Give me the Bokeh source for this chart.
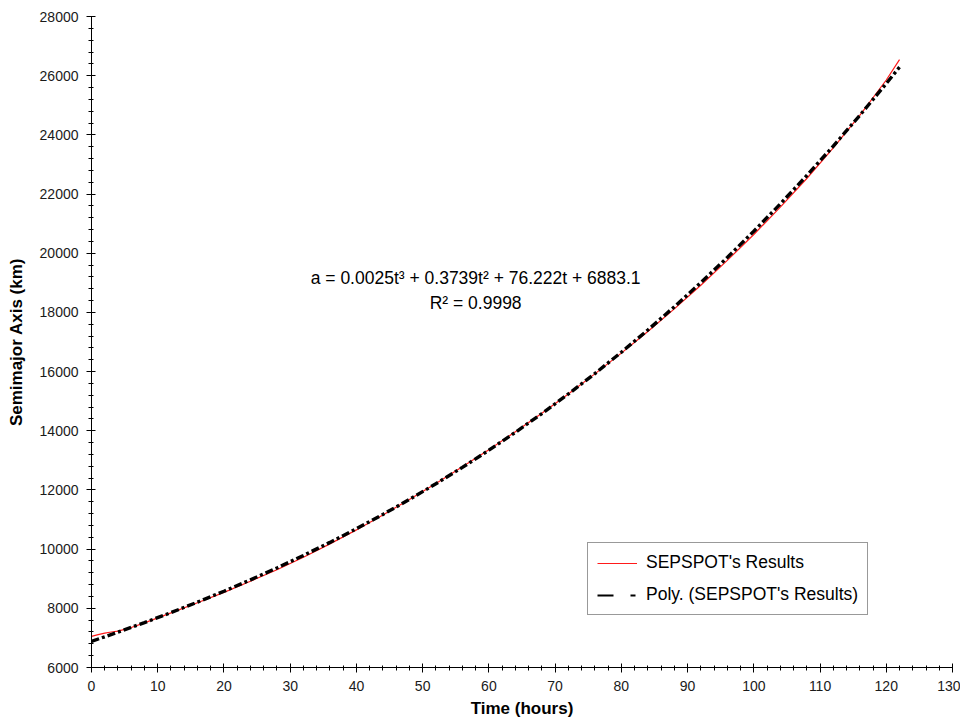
from bokeh.plotting import figure
from bokeh.models import (Range1d, SingleIntervalTicker, BasicTickFormatter, Label,
                          Legend, LegendItem)
from bokeh.embed import file_html
from bokeh.resources import INLINE

# ---- data ----
t_results = [0, 1, 2, 3, 4, 6, 8, 12, 16, 20, 24, 28, 32, 36, 40, 44, 48, 52, 56, 60,
             64, 68, 72, 76, 80, 84, 88, 92, 96, 100, 104, 108, 112, 116, 120, 122]
a_results = [7050, 7110, 7160, 7200, 7230, 7350, 7510, 7845, 8190, 8540, 8915, 9305,
             9727, 10178, 10650, 11154, 11680, 12219, 12783, 13362, 13968, 14591,
             15242, 15923, 16624, 17356, 18120, 18917, 19758, 20634, 21556, 22525,
             23562, 24658, 25854, 26540]

t_poly = [0, 4, 8, 12, 16, 20, 24, 28, 32, 36, 40, 44, 48, 52, 56, 60, 64, 68, 72, 76,
          80, 84, 88, 92, 96, 100, 104, 108, 112, 116, 120, 122]
a_poly = [6883, 7194, 7518, 7856, 8209, 8577, 8962, 9365, 9787, 10228, 10690, 11174,
          11680, 12209, 12763, 13343, 13948, 14581, 15243, 15933, 16654, 17406, 18190,
          19007, 19858, 20744, 21667, 22626, 23623, 24658, 25734, 26287]

x_label = "Time (hours)"
y_label = "Semimajor Axis (km)"
series_names = ["SEPSPOT's Results", "Poly. (SEPSPOT's Results)"]
equation = "a = 0.0025t\u00b3 + 0.3739t\u00b2 + 76.222t + 6883.1"
r_squared = "R\u00b2 = 0.9998"

FONT = "Liberation Sans"
NAN = float("nan")

p = figure(width=960, height=722, output_backend="svg", toolbar_location=None,
           x_range=Range1d(0, 130), y_range=Range1d(6000, 28000),
           min_border_left=91, min_border_right=8, min_border_top=16, min_border_bottom=55)
p.outline_line_color = None
p.xgrid.visible = False
p.ygrid.visible = False
p.background_fill_color = "white"
p.border_fill_color = "white"

p.xaxis.ticker = SingleIntervalTicker(interval=10, num_minor_ticks=5)
p.yaxis.ticker = SingleIntervalTicker(interval=2000, num_minor_ticks=5)
p.yaxis.formatter = BasicTickFormatter(use_scientific=False)

for ax in (p.xaxis, p.yaxis):
    ax.axis_line_color = "black"
    ax.major_tick_line_color = "black"
    ax.minor_tick_line_color = "black"
    ax.major_tick_in = 4
    ax.major_tick_out = 5
    ax.minor_tick_in = 2
    ax.minor_tick_out = 3
    ax.major_label_text_font = FONT
    ax.major_label_text_font_size = "14px"
    ax.major_label_text_color = "#1a1a1a"
    ax.axis_label_text_font = FONT
    ax.axis_label_text_font_size = "17px"
    ax.axis_label_text_font_style = "bold"
    ax.axis_label_text_color = "black"

p.xaxis.axis_label = x_label
p.yaxis.axis_label = y_label
p.xaxis.major_label_standoff = 8
p.xaxis.axis_label_standoff = 5
p.yaxis.major_label_standoff = 8
p.yaxis.axis_label_standoff = 11

red = p.line(t_results, a_results, line_color="#ff1a1a", line_width=1.2)
blk = p.line(t_poly, a_poly, line_color="black", line_width=3.4, line_dash="8 3 3 3")
# renderer used only for the legend sample of the trendline (no visible points)
blk_legend = p.line(x=[NAN], y=[NAN], line_color="black", line_width=2, line_dash="16 17 5 2")

legend = Legend(items=[LegendItem(label=series_names[0], renderers=[red]),
                       LegendItem(label=series_names[1], renderers=[blk_legend])],
                location=(496, 52))
legend.label_text_font = FONT
legend.label_text_font_size = "17.5px"
legend.label_text_color = "black"
legend.glyph_width = 40
legend.glyph_height = 16
legend.label_height = 16
legend.label_standoff = 9
legend.spacing = 11
legend.padding = 9
legend.margin = 0
legend.border_line_color = "#333333"
legend.border_line_width = 1
legend.background_fill_color = "white"
p.add_layout(legend)

p.add_layout(Label(x=58, y=19152, text=equation, text_align="center", text_baseline="middle",
                   text_font=FONT, text_font_size="17.5px", text_color="black"))
p.add_layout(Label(x=58, y=18307, text=r_squared, text_align="center", text_baseline="middle",
                   text_font=FONT, text_font_size="17.5px", text_color="black"))

open("out.html", "w").write(file_html(p, INLINE))
